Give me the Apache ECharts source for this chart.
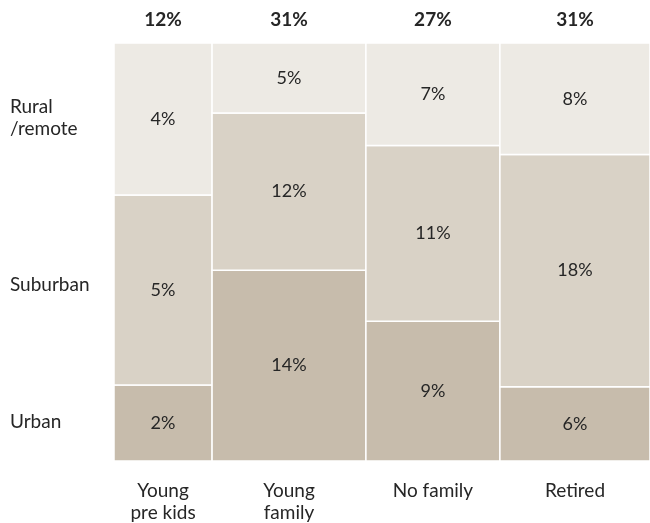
<!DOCTYPE html>
<html><head><meta charset="utf-8">
<script src="https://cdn.jsdelivr.net/npm/echarts@6/dist/echarts.min.js"></script>
<style>html,body{margin:0;padding:0;background:#fff}#c{width:650px;height:523px}</style>
</head><body><div id="c"></div>
<script>
// ---- data ----
const categories = ['Young\npre kids', 'Young\nfamily', 'No family', 'Retired'];
const columnTotals = [12, 31, 27, 31];          // header labels (%)
const columnShare = [18.3, 28.7, 25, 28];       // column widths as drawn (share of 100)
const rowNames = ['Urban', 'Suburban', 'Rural\n/remote']; // bottom -> top
const urban    = [2, 14.2, 9.0, 5.6];
const suburban = [5, 11.7, 11.3, 17.5];
const rural    = [4, 5.2, 6.6, 8.4];

const rows = [urban, suburban, rural];
const colors = ['#C7BCAC', '#D9D2C6', '#EDEAE4'];
const FONT = 'Lato';
const TXT = '#262626';

// build cells
const cells = [];
const colInfo = [];
let xc = 0;
categories.forEach((c, i) => {
  const x0 = xc, x1 = xc + columnShare[i];
  xc = x1;
  const tot = rows.reduce((s, r) => s + r[i], 0);
  let yc = 0;
  rows.forEach((r, j) => {
    const y0 = yc, y1 = yc + r[i] / tot * 100;
    yc = y1;
    cells.push([x0, x1, y0, y1, r[i], j, i]);
  });
  colInfo.push([(x0 + x1) / 2, i]);
});

const chart = echarts.init(document.getElementById('c'), null, {renderer: 'canvas'});
chart.setOption({
  animation: false,
  grid: {left: 114, right: 0, top: 43, bottom: 62},
  xAxis: {type: 'value', min: 0, max: 100, show: false},
  yAxis: {type: 'value', min: 0, max: 100, show: false},
  series: [
    {
      type: 'custom',
      data: cells,
      encode: {x: [0, 1], y: [2, 3]},
      renderItem: function (params, api) {
        const p0 = api.coord([api.value(0), api.value(2)]);
        const p1 = api.coord([api.value(1), api.value(3)]);
        const j = api.value(5), i = api.value(6);
        const x = p0[0], y = p1[1], w = p1[0] - p0[0], h = p0[1] - p1[1];
        const children = [
          {type: 'rect', shape: {x: x, y: y, width: w, height: h},
           style: {fill: colors[j], stroke: '#fff', lineWidth: 1.5}},
          {type: 'text', x: x + w / 2, y: y + h / 2,
           style: {text: Math.round(api.value(4)) + '%', fill: TXT, font: '18px ' + FONT,
                    align: 'center', verticalAlign: 'middle'}}
        ];
        if (i === 0) {
          children.push({type: 'text', x: 10, y: y + h / 2 - (j === 1 ? 5 : 1),
            style: {text: rowNames[j], fill: TXT, font: '19px ' + FONT, lineHeight: 22,
                    align: 'left', verticalAlign: 'middle'}});
        }
        return {type: 'group', children: children};
      }
    },
    {
      type: 'custom',
      data: colInfo,
      encode: {x: 0},
      renderItem: function (params, api) {
        const i = api.value(1);
        const top = api.coord([api.value(0), 100]);
        const bot = api.coord([api.value(0), 0]);
        return {type: 'group', children: [
          {type: 'text', x: top[0], y: 20,
           style: {text: columnTotals[i] + '%', fill: TXT, font: 'bold 19px ' + FONT,
                   align: 'center', verticalAlign: 'middle'}},
          {type: 'text', x: bot[0], y: bot[1] + 19,
           style: {text: categories[i], fill: TXT, font: '19px ' + FONT, lineHeight: 22,
                   align: 'center', verticalAlign: 'top'}}
        ]};
      }
    }
  ]
});
</script></body></html>
